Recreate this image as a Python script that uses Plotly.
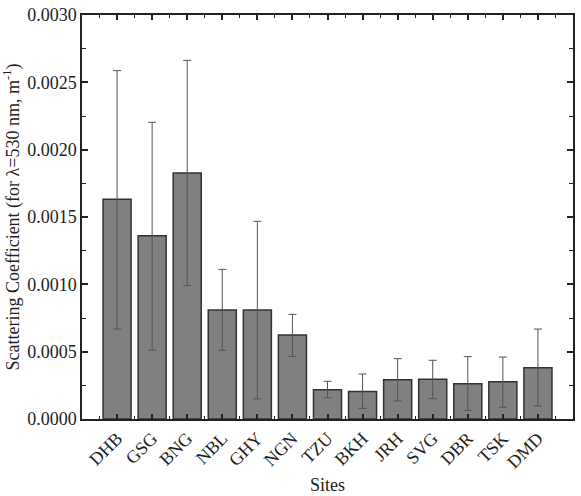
import plotly.graph_objects as go

sites = ["DHB", "GSG", "BNG", "NBL", "GHY", "NGN", "TZU", "BKH", "JRH", "SVG", "DBR", "TSK", "DMD"]
means = [0.001631, 0.001361, 0.001827, 0.000809, 0.000809, 0.000624, 0.000218, 0.000205,
         0.000292, 0.000295, 0.000262, 0.000277, 0.000381]
upper = [0.002587, 0.002203, 0.002663, 0.001111, 0.001468, 0.000777, 0.000280, 0.000334,
         0.000448, 0.000436, 0.000463, 0.000460, 0.000668]
lower = [0.000668, 0.000512, 0.000990, 0.000510, 0.000149, 0.000465, 0.000158, 0.000079,
         0.000134, 0.000151, 0.000064, 0.000087, 0.000097]

xpos = list(range(len(sites)))
err_plus = [u - m for u, m in zip(upper, means)]
err_minus = [m - l for m, l in zip(means, lower)]

font = "Liberation Serif, Times New Roman, serif"

fig = go.Figure(go.Bar(
    x=xpos, y=means, width=0.8,
    marker=dict(color="#808080", line=dict(color="#333333", width=1.5)),
    error_y=dict(type="data", symmetric=False, array=err_plus, arrayminus=err_minus,
                 color="#555555", thickness=1, width=4),
))

fig.update_layout(
    width=581, height=496,
    margin=dict(l=82, r=8, t=15, b=77),
    plot_bgcolor="white", paper_bgcolor="white",
    showlegend=False,
    font=dict(family=font, size=18, color="#222222"),
)
fig.update_xaxes(
    range=[-1, 13], tickmode="array", tickvals=xpos, ticktext=sites,
    tickangle=-45, ticks="inside", ticklen=5, tickwidth=1.5, tickcolor="#222",
    showline=True, linecolor="#222", linewidth=1.5, mirror="ticks",
    showgrid=False, zeroline=False, automargin=False,
    minor=dict(tickmode="array", tickvals=[i + 0.5 for i in range(-1, 13)],
               ticks="inside", ticklen=3, tickwidth=1, tickcolor="#222"),
    title=dict(text="Sites", font=dict(size=18), standoff=7),
    tickfont=dict(size=18),
)
fig.update_yaxes(
    range=[0, 0.003], dtick=0.0005, tick0=0, tickformat=".4f",
    ticks="inside", ticklen=6, tickwidth=1.5, tickcolor="#222",
    showline=True, linecolor="#222", linewidth=1.5, mirror="ticks",
    showgrid=False, zeroline=False, automargin=False,
    minor=dict(dtick=0.00025, ticks="inside", ticklen=4, tickwidth=1, tickcolor="#222"),
    title=dict(text="Scattering Coefficient (for λ=530 nm, m<sup>-1</sup>)", font=dict(size=18), standoff=6),
    tickfont=dict(size=18),
)

fig.write_html("out.html")
